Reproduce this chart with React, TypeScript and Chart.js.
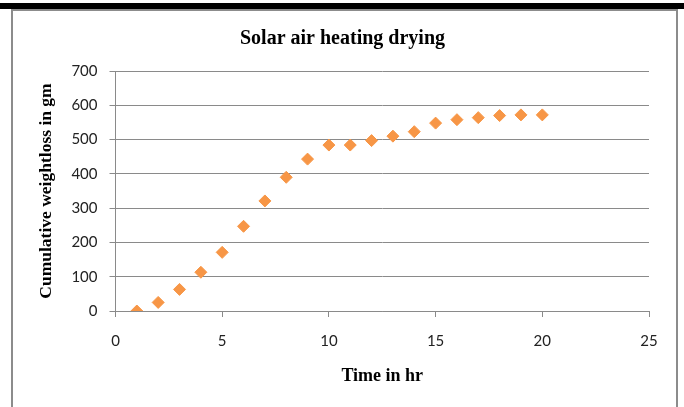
import React, { useEffect, useRef } from "react";
import { Chart, registerables } from "chart.js";

Chart.register(...registerables);

const hours: number[] = [1, 2, 3, 4, 5, 6, 7, 8, 9, 10, 11, 12, 13, 14, 15, 16, 17, 18, 19, 20];
const weightLoss: number[] = [0, 25, 63, 113, 171, 247, 321, 390, 443, 484, 484, 497, 510, 523, 548, 558, 564, 570, 572, 572];
const chartTitle = "Solar air heating drying";
const xTitle = "Time in hr";
const yTitle = "Cumulative weightloss in gm";
const xMin = 0, xMax = 25, xStep = 5;
const yMin = 0, yMax = 700, yStep = 100;

export default function App() {
  const ref = useRef<HTMLCanvasElement | null>(null);

  useEffect(() => {
    if (!ref.current) return;
    const serif = "'Liberation Serif', 'Times New Roman', serif";
    const sans = "Lato, 'Open Sans', sans-serif";
    const chart = new Chart(ref.current, {
      type: "scatter",
      data: {
        datasets: [
          {
            label: "Weight loss",
            data: hours.map((h, i) => ({ x: h, y: weightLoss[i] })),
            pointStyle: "rectRot",
            pointRadius: 6,
            pointBackgroundColor: "#F79646",
            pointBorderColor: "#F79646",
            pointBorderWidth: 1,
            showLine: false,
          },
        ],
      },
      options: {
        animation: false,
        responsive: false,
        maintainAspectRatio: false,
        layout: { padding: { left: 24, right: 30, top: 0, bottom: 0 } },
        plugins: {
          legend: { display: false },
          tooltip: { enabled: false },
          title: {
            display: true,
            text: chartTitle,
            color: "#000",
            font: { family: serif, size: 20, weight: "bold", lineHeight: 1.2 },
            padding: { top: 16.5, bottom: 20.5 },
          },
        },
        scales: {
          x: {
            type: "linear",
            min: xMin,
            max: xMax,
            ticks: {
              stepSize: xStep,
              color: "#222",
              font: { family: sans, size: 15 },
              padding: 15,
              maxRotation: 0,
            },
            grid: {
              drawOnChartArea: false,
              drawTicks: true,
              tickLength: 6,
              tickColor: "#8a8a8a",
            },
            border: { display: true, color: "#8a8a8a", width: 1 },
            title: {
              display: true,
              text: xTitle,
              color: "#000",
              font: { family: serif, size: 18, weight: "bold", lineHeight: 1.2 },
              padding: { top: 0, bottom: 20 },
            },
            afterFit: (s: any) => {
              s.height = 96;
            },
          },
          y: {
            type: "linear",
            min: yMin,
            max: yMax,
            ticks: {
              stepSize: yStep,
              color: "#222",
              font: { family: sans, size: 15 },
              padding: 12,
            },
            grid: {
              color: "#8a8a8a",
              lineWidth: 1,
              drawTicks: true,
              tickLength: 6,
              tickColor: "#8a8a8a",
            },
            border: { display: true, color: "#8a8a8a", width: 1 },
            title: {
              display: true,
              text: yTitle,
              color: "#000",
              font: { family: serif, size: 17.5, weight: "bold", lineHeight: 1.2 },
              padding: { top: 0, bottom: 0 },
            },
            afterFit: (s: any) => {
              s.width = 79.5;
            },
          },
        },
      },
    });
    return () => chart.destroy();
  }, []);

  return (
    <div style={{ position: "fixed", left: 0, top: 0, width: 684, height: 407, overflow: "hidden", background: "#fff" }}>
      <div style={{ position: "absolute", left: 0, top: 3, width: 684, height: 6, background: "#000" }} />
      <div
        style={{
          position: "absolute",
          left: 11,
          top: 9,
          width: 667,
          height: 410,
          border: "2px solid #8c8c8c",
          boxSizing: "border-box",
        }}
      />
      <canvas ref={ref} width={667} height={397} style={{ position: "absolute", left: 12, top: 10, width: 667, height: 397 }} />
    </div>
  );
}
